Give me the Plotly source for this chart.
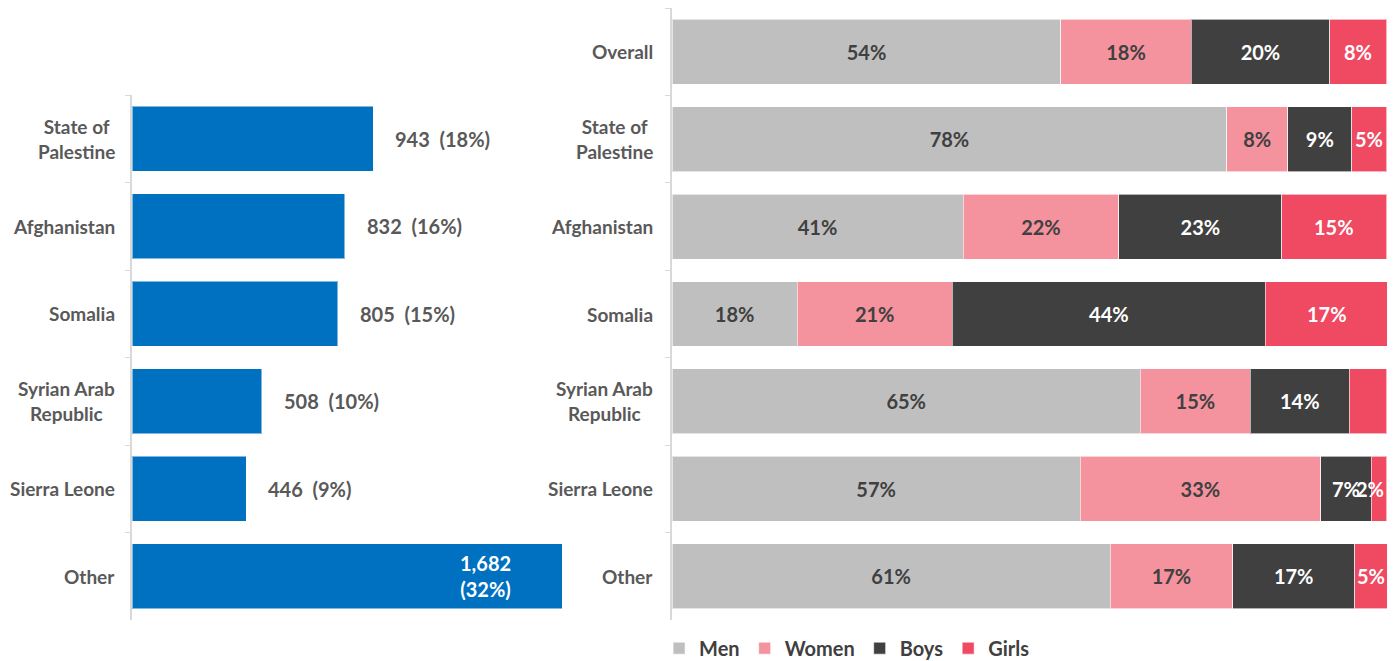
import plotly.graph_objects as go

# ---------------- data ----------------
countries = ["State of Palestine", "Afghanistan", "Somalia", "Syrian Arab Republic", "Sierra Leone", "Other"]
country_labels = ["State of<br>Palestine", "Afghanistan", "Somalia", "Syrian Arab<br>Republic", "Sierra Leone", "Other"]
counts = [943, 832, 805, 508, 446, 1682]
count_text = ["943\u00a0\u00a0(18%)", "832\u00a0\u00a0(16%)", "805\u00a0\u00a0(15%)",
              "508\u00a0\u00a0(10%)", "446\u00a0\u00a0(9%)", "1,682<br>(32%)"]

groups = ["Overall"] + countries
group_labels = ["Overall"] + country_labels
men = [54.4, 77.6, 40.7, 17.5, 65.5, 57.1, 61.3]
women = [18.2, 8.5, 21.8, 21.7, 15.4, 33.6, 17.1]
boys = [19.4, 9.0, 22.8, 43.8, 13.8, 7.1, 17.1]
girls = [8.0, 4.9, 14.7, 17.1, 5.3, 2.2, 4.6]
men_text = ["54%", "78%", "41%", "18%", "65%", "57%", "61%"]
women_text = ["18%", "8%", "22%", "21%", "15%", "33%", "17%"]
boys_text = ["20%", "9%", "23%", "44%", "14%", "7%", "17%"]
girls_text = ["8%", "5%", "15%", "17%", "", "2%", "5%"]

series = [
    ("Men", men, men_text, "#BFBFBF", "#404040"),
    ("Women", women, women_text, "#F4929E", "#404040"),
    ("Boys", boys, boys_text, "#404040", "#FFFFFF"),
    ("Girls", girls, None, "#EF4A61", "#FFFFFF"),
]

FONT = "Lato"
fig = go.Figure()

# left chart
fig.add_trace(go.Bar(
    x=counts, y=countries, orientation="h",
    marker=dict(color="#0070C0", line=dict(color="rgba(255,255,255,0.5)", width=1)),
    xaxis="x", yaxis="y", showlegend=False, hoverinfo="x+y",
))

# right chart
for name, vals, txt, col, tcol in series:
    fig.add_trace(go.Bar(
        x=vals, y=groups, orientation="h", name=name,
        marker=dict(color=col, line=dict(color="rgba(255,255,255,0.6)", width=1)),
        text=txt, textposition="inside" if txt else "none", insidetextanchor="middle",
        constraintext="none", textangle=0,
        textfont=dict(family=FONT, size=20, color=tcol, weight="bold"),
        xaxis="x2", yaxis="y2",
    ))

annotations = []
# girls labels (may overflow their narrow segment, as in the original)
for g, m, w, b, gl, t in zip(groups, men, women, boys, girls, girls_text):
    if not t:
        continue
    start = m + w + b
    if gl < 3:
        annotations.append(dict(x=start + gl, y=g, xref="x2", yref="y2", text=t, showarrow=False,
                                xanchor="right", xshift=-1,
                                font=dict(family=FONT, size=20, color="#FFFFFF", weight="bold")))
    else:
        annotations.append(dict(x=start + gl / 2, y=g, xref="x2", yref="y2", text=t, showarrow=False,
                                xanchor="center",
                                font=dict(family=FONT, size=20, color="#FFFFFF", weight="bold")))

# value labels on the left bars
for c, v, t in zip(countries, counts, count_text):
    if v == max(counts):
        annotations.append(dict(x=v, y=c, xref="x", yref="y", text=t, showarrow=False,
                                xanchor="right", xshift=-49, align="center",
                                font=dict(family=FONT, size=20, color="#FFFFFF", weight="bold")))
    else:
        annotations.append(dict(x=v, y=c, xref="x", yref="y", text=t, showarrow=False,
                                xanchor="left", xshift=20,
                                font=dict(family=FONT, size=20, color="#595959", weight="bold")))
# category labels (centered multi-line)
for c, lab in zip(countries, country_labels):
    annotations.append(dict(x=0, y=c, xref="x domain", yref="y", text=lab, showarrow=False,
                            xanchor="right", xshift=-15, align="center",
                            font=dict(family=FONT, size=19, color="#595959", weight="bold")))
for g, lab in zip(groups, group_labels):
    annotations.append(dict(x=0, y=g, xref="x2 domain", yref="y2", text=lab, showarrow=False,
                            xanchor="right", xshift=-17, align="center",
                            font=dict(family=FONT, size=19, color="#595959", weight="bold")))

axis_common = dict(showline=True, linecolor="#D9D9D9", linewidth=1.5, ticks="outside",
                   tickcolor="#D9D9D9", ticklen=5, tickson="boundaries", showticklabels=False,
                   showgrid=False, zeroline=False, type="category", autorange="reversed")

fig.update_layout(
    width=1395, height=661,
    margin=dict(l=132, r=8, t=8, b=41, autoexpand=False),
    paper_bgcolor="white", plot_bgcolor="white",
    barmode="stack", bargap=0.257,
    font=dict(family=FONT, color="#404040"),
    xaxis=dict(domain=[0, 0.381], range=[0, 1870], visible=False),
    yaxis=dict(domain=[0, 525 / 612], anchor="x", categoryorder="array", categoryarray=countries,
               **axis_common),
    xaxis2=dict(domain=[0.4303, 1.0], range=[0, 100], visible=False, anchor="y2"),
    yaxis2=dict(domain=[0, 1], anchor="x2", categoryorder="array", categoryarray=groups,
                **axis_common),
    legend=dict(orientation="h", x=0.42, xanchor="left", y=-0.046, yanchor="middle",
                font=dict(family=FONT, size=20, color="#404040", weight="bold"),
                itemwidth=30, traceorder="normal", tracegroupgap=0),
    annotations=annotations,
)

fig.write_html("out.html", config={"displayModeBar": False},
               post_script="document.body.style.margin='0';document.body.style.overflow='hidden';")
